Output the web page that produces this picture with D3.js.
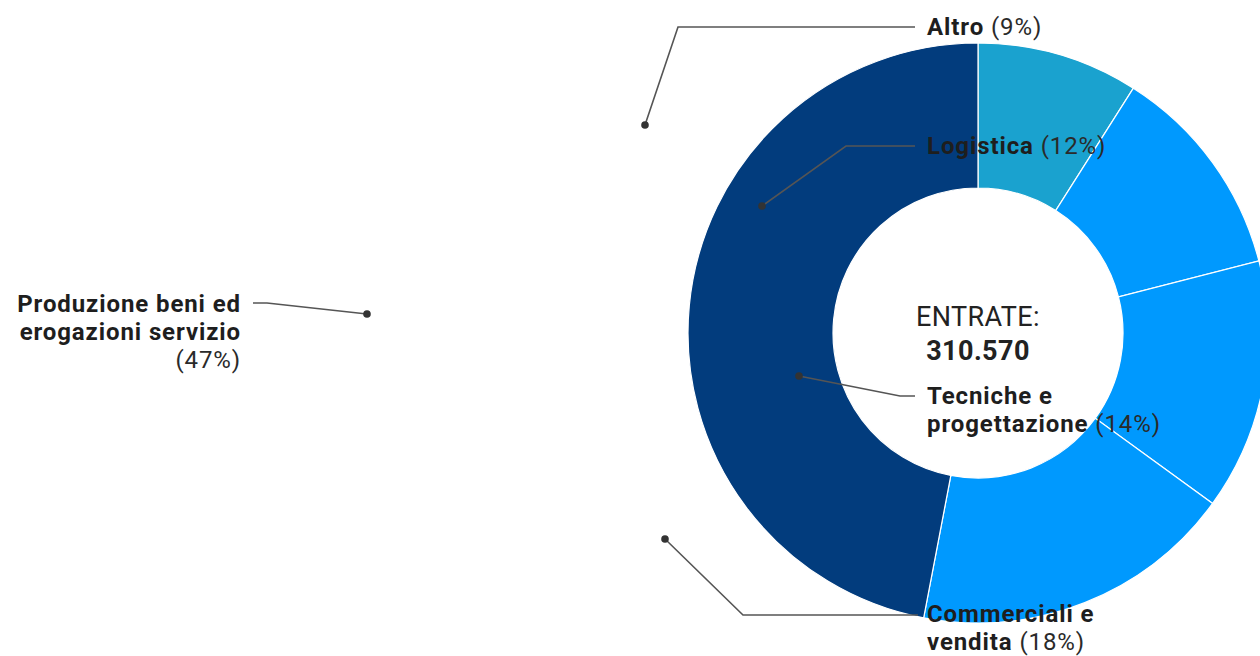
<!DOCTYPE html>
<html>
<head>
<meta charset="utf-8">
<script src="https://cdn.jsdelivr.net/npm/d3@7"></script>
<style>
  body { margin: 0; background: #fff; }
  svg { display: block; font-family: Roboto, "Noto Sans", sans-serif; }
  .name { font-weight: 700; }
  .pct { font-weight: 400; }
</style>
</head>
<body>
<svg id="chart"></svg>
<script>
// data
var categories = ["Altro", "Logistica", "Tecniche e progettazione", "Commerciali e vendita", "Produzione beni ed erogazioni servizio"];
var shares = [9, 12, 14, 18, 47];
var sliceColors = ["#1aa2cf", "#0099fe", "#0099fe", "#0099fe", "#023c7d"];
var centerTitle = "ENTRATE:";
var centerValue = "310.570";

// label wrapping (name lines; the % goes after the last one, or alone if that is empty)
var labelLines = [
  ["Altro"],
  ["Logistica"],
  ["Tecniche e", "progettazione"],
  ["Commerciali e", "vendita"],
  ["Produzione beni ed", "erogazioni servizio", ""]
];

var screen = { width: 1260, height: 656 };
var center = { x: 978, y: 333 };
var radius = { inner: 145, outer: 290 };
var lineH = 28;

// where each label sits and where its leader line runs
var labelLayout = [
  { x: 927, y: 35, anchor: "start", path: [[915, 27], [678, 27], [645, 125]] },
  { x: 927, y: 154, anchor: "start", path: [[915, 146], [846, 146], [762, 206]] },
  { x: 927, y: 404, anchor: "start", path: [[915, 396], [900, 396], [799, 376]] },
  { x: 927, y: 622, anchor: "start", path: [[918, 615], [743, 615], [665, 539]] },
  { x: 241, y: 312, anchor: "end", path: [[253, 303], [267, 303], [367, 314]] }
];

var svg = d3.select("#chart").attr("width", screen.width).attr("height", screen.height);

var pie = d3.pie().sort(null).value(function (d) { return d; });
var arc = d3.arc().innerRadius(radius.inner).outerRadius(radius.outer);

var g = svg.append("g").attr("transform", "translate(" + center.x + "," + center.y + ")");

g.selectAll("path.slice")
  .data(pie(shares))
  .enter()
  .append("path")
  .classed("slice", true)
  .attr("d", arc)
  .attr("fill", function (d, i) { return sliceColors[i]; })
  .attr("stroke", "#fff")
  .attr("stroke-width", 1.2);

// center text
g.append("text")
  .text(centerTitle)
  .attr("text-anchor", "middle")
  .attr("y", -7)
  .attr("font-size", 27)
  .attr("letter-spacing", 0.4)
  .attr("fill", "#222");
g.append("text")
  .text(centerValue)
  .attr("text-anchor", "middle")
  .attr("y", 27)
  .attr("font-size", 27)
  .attr("font-weight", 700)
  .attr("letter-spacing", 0.4)
  .attr("fill", "#222");

// leader lines
var line = d3.line();
var leaders = svg.append("g").classed("leaders", true);
labelLayout.forEach(function (l) {
  leaders.append("path")
    .attr("d", line(l.path))
    .attr("fill", "none")
    .attr("stroke", "#555")
    .attr("stroke-width", 1.6);
  var end = l.path[l.path.length - 1];
  leaders.append("circle")
    .attr("cx", end[0])
    .attr("cy", end[1])
    .attr("r", 3.8)
    .attr("fill", "#333");
});

// labels, one <text> per line
var labels = svg.append("g").classed("labels", true);
categories.forEach(function (c, i) {
  var l = labelLayout[i];
  var lines = labelLines[i];
  lines.forEach(function (txt, j) {
    var t = labels.append("text")
      .attr("x", l.x)
      .attr("y", l.y + j * lineH)
      .attr("text-anchor", l.anchor)
      .attr("font-size", 24)
      .attr("letter-spacing", 0.9)
      .attr("fill", "#1e1e1e");
    if (txt) t.append("tspan").classed("name", true).text(txt);
    if (j === lines.length - 1) {
      t.append("tspan")
        .classed("pct", true)
        .attr("fill", "#2a2a2a")
        .text((txt ? " " : "") + "(" + shares[i] + "%)");
    }
  });
});
</script>
</body>
</html>
